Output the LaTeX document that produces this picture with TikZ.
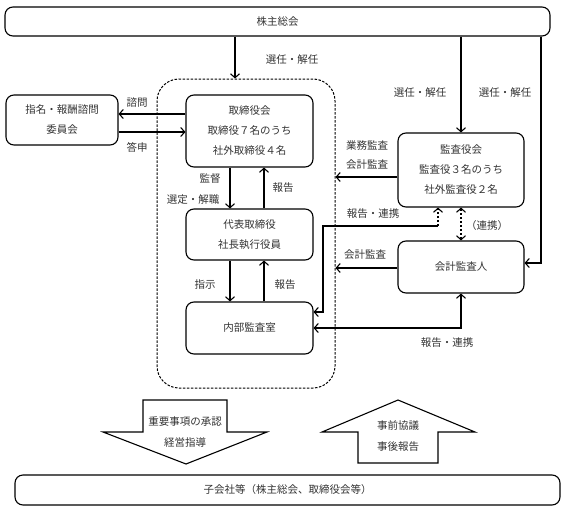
\documentclass[tikz,border=0pt]{standalone}
\usepackage{fontspec}
\newfontfamily\jp{Noto Sans CJK JP}
\usetikzlibrary{arrows.meta}
\tikzset{
  box/.style={draw, line width=1.1pt, rounded corners=8pt, inner sep=0pt, align=center,
    font=\jp\fontsize{10.5}{20}\selectfont, text=black!80},
  lbl/.style={font=\jp\fontsize{10.5}{20}\selectfont, text=black!80, inner sep=0pt},
  finedash/.style={dash pattern=on 2.5pt off 1.5pt},
  conn/.style={line width=1.1pt, -{Straight Barb[length=4pt,width=9pt,line width=1.1pt]}},
  conn2/.style={line width=1.1pt, {Straight Barb[length=4pt,width=9pt,line width=1.1pt]}-{Straight Barb[length=4pt,width=9pt,line width=1.1pt]}},
  bigarrow/.style={draw, line width=1.1pt, line join=miter}
}
\begin{document}
\begin{tikzpicture}[x=1pt,y=-1pt]
\useasboundingbox (0,0) rectangle (567,511);
% boxes
\node[box, minimum width=545pt, minimum height=29pt] (sh) at (277.5,21.5) {株主総会};
\node[draw, line width=1pt, finedash, rounded corners=22pt, minimum width=178pt, minimum height=309pt] (dbox) at (246,233.5) {};
\node[box, minimum width=112pt, minimum height=50pt] (nom) at (62,120) {指名・報酬諮問\\委員会};
\node[box, minimum width=127pt, minimum height=72pt] (bod) at (249.5,131) {取締役会\\取締役７名のうち\\社外取締役４名};
\node[box, minimum width=127pt, minimum height=51pt] (rep) at (249.5,234.5) {代表取締役\\社長執行役員};
\node[box, minimum width=127pt, minimum height=52pt] (ia) at (249.5,328) {内部監査室};
\node[box, minimum width=126pt, minimum height=74pt] (kan) at (461,170) {監査役会\\監査役３名のうち\\社外監査役２名};
\node[box, minimum width=126pt, minimum height=52pt] (acc) at (461,267) {会計監査人};
\node[box, minimum width=545pt, minimum height=30pt] (sub) at (287.5,490) {子会社等（株主総会、取締役会等）};
% helper coordinates
\coordinate (xa) at (235,0);
\coordinate (xr) at (541,0);
\coordinate (ya) at (0,114);
\coordinate (yb) at (0,132);
\coordinate (x1) at (230,0);
\coordinate (x2) at (264,0);
\coordinate (yk) at (0,177);
\coordinate (yc) at (0,268);
\coordinate (yr) at (0,263);
\coordinate (rk) at (438,226);
\coordinate (rv) at (323,226);
\coordinate (yi) at (0,312);
\coordinate (yj) at (0,328);
% connectors
\draw[conn] (xa |- sh.south) -- (xa |- dbox.north);
\draw[conn] (bod.west |- ya) -- (nom.east |- ya);
\draw[conn] (nom.east |- yb) -- (bod.west |- yb);
\draw[conn] (x1 |- bod.south) -- (x1 |- rep.north);
\draw[conn] (x2 |- rep.north) -- (x2 |- bod.south);
\draw[conn] (x1 |- rep.south) -- (x1 |- ia.north);
\draw[conn] (x2 |- ia.north) -- (x2 |- rep.south);
\draw[conn] (kan.north |- sh.south) -- (kan.north);
\draw[conn] (xr |- sh.south) -- (xr |- yr) -- (acc.east |- yr);
\draw[conn] (kan.west |- yk) -- (dbox.east |- yk);
\draw[conn] (acc.west |- yc) -- (dbox.east |- yc);
\draw[conn, finedash] (rk) -- (rk |- kan.south);
\draw[conn] (rk) -- (rv) -- (rv |- yi) -- (ia.east |- yi);
\draw[conn2, finedash] (kan.south) -- (acc.north);
\draw[conn2] (ia.east |- yj) -- (acc.south |- yj) -- (acc.south);
% big arrows
\draw[bigarrow] (143,400) -- (227,400) -- (227,432) -- (267,432) -- (186,464) -- (103,432) -- (143,432) -- cycle;
\draw[bigarrow] (398,400) -- (475,432) -- (438,432) -- (438,463) -- (358,463) -- (358,432) -- (322,432) -- cycle;
% labels
\node[lbl] (l1) at (292,60) {選任・解任};
\node[lbl] (l2) at (137,103) {諮問};
\node[lbl] (l3) at (137,147) {答申};
\node[lbl] (l4) at (210,179) {監督};
\node[lbl] (l5) at (193,200) {選定・解職};
\node[lbl] (l6) at (283,188) {報告};
\node[lbl] (l7) at (205,285) {指示};
\node[lbl] (l8) at (285,285) {報告};
\node[lbl] (l9) at (420,93) {選任・解任};
\node[lbl] (l10) at (505,93) {選任・解任};
\node[lbl] (l11) at (367,146) {業務監査};
\node[lbl] (l12) at (367,165) {会計監査};
\node[lbl] (l13) at (373,214) {報告・連携};
\node[lbl] (l14) at (487,226) {（連携）};
\node[lbl] (l15) at (365,255) {会計監査};
\node[lbl] (l16) at (447,343) {報告・連携};
\node[lbl] (l17) at (185,422) {重要事項の承認};
\node[lbl] (l18) at (185,443) {経営指導};
\node[lbl] (l19) at (398,426) {事前協議};
\node[lbl] (l20) at (398,447) {事後報告};
\end{tikzpicture}
\end{document}
